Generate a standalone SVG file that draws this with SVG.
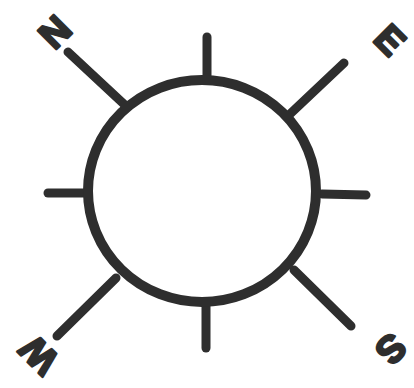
<svg xmlns="http://www.w3.org/2000/svg" width="414" height="388" viewBox="0 0 414 388">
<style>
.sp{stroke:#2e2e2e;stroke-width:9;stroke-linecap:round;fill:none}
.ring{stroke:#2e2e2e;stroke-width:10;fill:#fff}
.lbl{font-family:"Liberation Sans",Arial,sans-serif;font-weight:bold;font-size:38px;fill:#2e2e2e;stroke:#2e2e2e;stroke-width:2.5;stroke-linejoin:round;text-anchor:middle;dominant-baseline:central}
</style>
<rect width="414" height="388" fill="#fff"/>
<g id="spokes">
<line class="sp" x1="207" y1="37" x2="207" y2="82"/>
<line class="sp" x1="344" y1="63" x2="290" y2="114"/>
<line class="sp" x1="322" y1="194" x2="366" y2="195"/>
<line class="sp" x1="294" y1="270" x2="351" y2="326"/>
<line class="sp" x1="206" y1="300" x2="206" y2="348"/>
<line class="sp" x1="116" y1="278" x2="57" y2="336"/>
<line class="sp" x1="48" y1="193" x2="84" y2="193"/>
<line class="sp" x1="126" y1="106" x2="68" y2="52"/>
</g>
<g id="dial"><ellipse class="ring" cx="202" cy="191" rx="114" ry="111"/></g>
<g id="label-n"><text class="lbl" transform="translate(55,32) rotate(-45)">N</text></g>
<g id="label-e"><text class="lbl" transform="translate(390,40) rotate(45)">E</text></g>
<g id="label-s"><text class="lbl" transform="translate(391,349) rotate(135)">S</text></g>
<g id="label-w"><text class="lbl" transform="translate(39,355) rotate(-135)">W</text></g>
</svg>
